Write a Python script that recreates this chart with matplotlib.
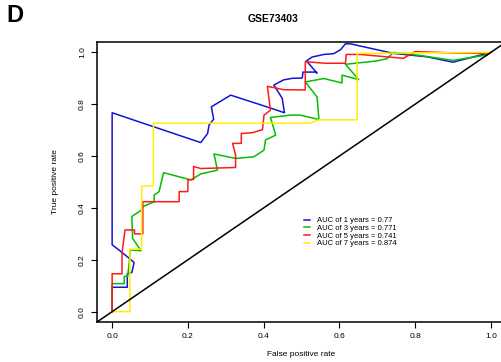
import matplotlib
matplotlib.use('Agg')
import matplotlib.pyplot as plt

plt.rcParams['font.family'] = ['Liberation Sans', 'DejaVu Sans']

# ROC curves (false positive rate, true positive rate)
fpr_1y = [0, 0, 0.04, 0.04, 0.052, 0.058, 0.028, 0, 0, 0.234, 0.252, 0.256, 0.268, 0.262,
          0.313, 0.423, 0.455, 0.449, 0.427, 0.453, 0.476, 0.502, 0.504, 0.537, 0.541,
          0.513, 0.528, 0.559, 0.585, 0.603, 0.616, 0.629, 0.743, 0.831, 0.9, 0.989, 1]
tpr_1y = [0, 0.094, 0.094, 0.146, 0.151, 0.19, 0.226, 0.258, 0.767, 0.652, 0.687, 0.72, 0.742,
          0.79, 0.835, 0.783, 0.767, 0.823, 0.874, 0.894, 0.9, 0.901, 0.924, 0.924, 0.92,
          0.967, 0.982, 0.992, 0.995, 1.01, 1.033, 1.033, 0.996, 0.983, 0.962, 0.996, 1]

fpr_3y = [0, 0, 0.032, 0.032, 0.041, 0.045, 0.048, 0.076, 0.054, 0.052, 0.076, 0.081, 0.111,
          0.111, 0.124, 0.129, 0.136, 0.208, 0.234, 0.278, 0.269, 0.326, 0.374, 0.401,
          0.405, 0.432, 0.418, 0.471, 0.497, 0.546, 0.541, 0.51, 0.559, 0.607, 0.607,
          0.651, 0.616, 0.699, 0.726, 0.743, 0.813, 0.9, 0.99, 1]
tpr_3y = [0, 0.108, 0.108, 0.136, 0.136, 0.187, 0.238, 0.235, 0.283, 0.367, 0.39, 0.405, 0.424,
          0.45, 0.463, 0.495, 0.536, 0.508, 0.531, 0.546, 0.608, 0.591, 0.597, 0.623,
          0.662, 0.681, 0.749, 0.758, 0.758, 0.741, 0.828, 0.886, 0.899, 0.882, 0.912,
          0.895, 0.954, 0.967, 0.976, 1.0, 0.988, 0.969, 0.99, 1]

fpr_5y = [0, 0, 0.026, 0.026, 0.034, 0.059, 0.059, 0.081, 0.081, 0.177, 0.177, 0.2, 0.2,
          0.215, 0.215, 0.234, 0.326, 0.326, 0.318, 0.341, 0.341, 0.37, 0.397, 0.401,
          0.418, 0.41, 0.453, 0.51, 0.51, 0.563, 0.616, 0.618, 0.655, 0.769, 0.8, 0.9, 0.99, 1]
tpr_5y = [0, 0.146, 0.146, 0.226, 0.315, 0.315, 0.3, 0.3, 0.424, 0.424, 0.463, 0.463, 0.508,
          0.51, 0.56, 0.552, 0.556, 0.604, 0.649, 0.649, 0.687, 0.69, 0.702, 0.758,
          0.777, 0.869, 0.856, 0.855, 0.964, 0.958, 0.958, 0.992, 0.992, 0.977, 1.003, 0.998, 0.996, 1]

fpr_7y = [0, 0.047, 0.047, 0.078, 0.078, 0.109, 0.109, 0.524, 0.546, 0.647, 0.647, 1]
tpr_7y = [0, 0, 0.241, 0.241, 0.485, 0.485, 0.727, 0.727, 0.74, 0.74, 0.996, 1]

labels = ['AUC of 1 years = 0.77', 'AUC of 3 years = 0.771',
          'AUC of 5 years = 0.741', 'AUC of 7 years = 0.874']
colors = ['#1414d8', '#00c000', '#ff1a1a', '#ffee00']
ticks = [0.0, 0.2, 0.4, 0.6, 0.8, 1.0]

fig = plt.figure(figsize=(5.01, 3.62), dpi=100)
ax = fig.add_axes([97/501, 1 - 322/362, 409/501, 280/362])

curves = [(fpr_1y, tpr_1y), (fpr_3y, tpr_3y), (fpr_5y, tpr_5y), (fpr_7y, tpr_7y)]
for (x, y), c, lab in zip(curves, colors, labels):
    ax.plot(x, y, color=c, lw=1.1, label=lab)

# reference diagonal
ax.plot([-0.1, 1.1], [-0.1, 1.1], color='black', lw=1.1)

ax.set_xlim(-0.04, 1.04)
ax.set_ylim(-0.04, 1.04)
ax.set_xticks(ticks)
ax.set_yticks(ticks)
ax.set_xticklabels(['%.1f' % t for t in ticks], fontsize=6)
ax.set_yticklabels(['%.1f' % t for t in ticks], fontsize=6, rotation=90, va='center')
ax.tick_params(length=4, width=0.8, pad=4)
for s in ax.spines.values():
    s.set_linewidth(1.1)

ax.set_xlabel('False positive rate', fontsize=6, labelpad=8)
ax.set_ylabel('True positive rate', fontsize=6, labelpad=14)

leg = ax.legend(loc='upper left', bbox_to_anchor=(0.49, 0.40), frameon=False,
                fontsize=5.5, handlelength=0.8, handletextpad=0.8, labelspacing=0.05)

fig.text(273/501, 1 - 19/362, 'GSE73403', fontsize=7.5, fontweight='bold',
         ha='center', va='center')
fig.text(6/501, 1 - 16/362, 'D', fontsize=17, fontweight='bold', ha='left', va='center')

fig.savefig('out.png', dpi=100)
